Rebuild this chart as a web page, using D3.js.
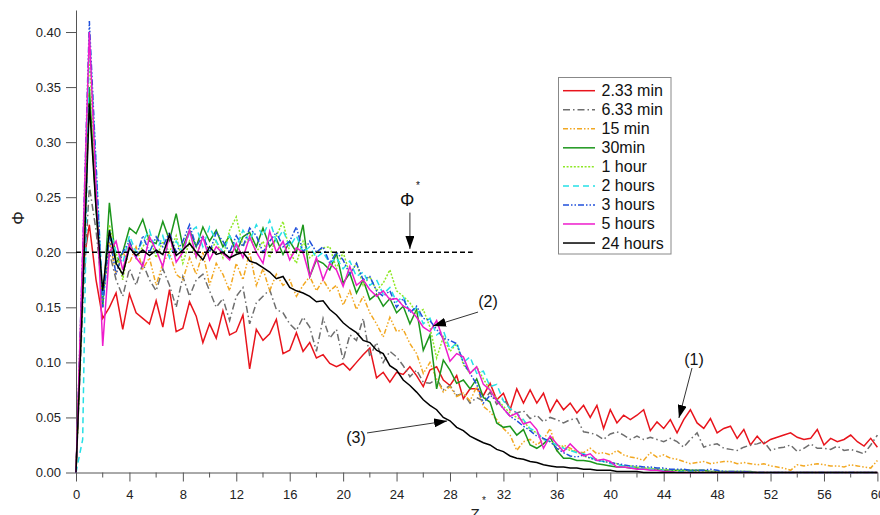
<!DOCTYPE html>
<html>
<head>
<meta charset="utf-8">
<script src="https://cdn.jsdelivr.net/npm/d3@7/dist/d3.min.js"></script>
<style>
  body { margin: 0; background: #fff; }
  svg { display: block; font-family: "Liberation Sans", Arial, sans-serif; }
</style>
</head>
<body>
<svg id="chart" width="880" height="515"></svg>
<script>
// Dimensionless height z* at which each profile is sampled
const zStar = [
  0,0.5,1,1.5,2,2.5,3,3.5,4,4.5, 5,5.5,6,6.5,7,7.5,8,8.5,9,9.5,
  10,10.5,11,11.5,12,12.5,13,13.5,14,14.5, 15,15.5,16,16.5,17,17.5,18,18.5,19,19.5,
  20,20.5,21,21.5,22,22.5,23,23.5,24,24.5, 25,25.5,26,26.5,27,27.5,28,28.5,29,29.5,
  30,30.5,31,31.5,32,32.5,33,33.5,34,34.5, 35,35.5,36,36.5,37,37.5,38,38.5,39,39.5,
  40,40.5,41,41.5,42,42.5,43,43.5,44,44.5, 45,45.5,46,46.5,47,47.5,48,48.5,49,49.5,
  50,50.5,51,51.5,52,52.5,53,53.5,54,54.5, 55,55.5,56,56.5,57,57.5,58,58.5,59,59.5,
  60
];

const seriesLabels = ["2.33 min","6.33 min","15 min","30min","1 hour","2 hours","3 hours","5 hours","24 hours"];

// Solid volume fraction profiles, one per settling time
const phi_2_33min = [
  0,0.185,0.225,0.175,0.14,0.15,0.163,0.13,0.162,0.145,
  0.14,0.135,0.156,0.132,0.166,0.128,0.131,0.155,0.142,0.118,
  0.135,0.122,0.147,0.125,0.128,0.143,0.094,0.13,0.12,0.126,
  0.139,0.108,0.111,0.127,0.11,0.118,0.104,0.107,0.099,0.096,
  0.099,0.093,0.1,0.107,0.113,0.086,0.091,0.082,0.091,0.089,
  0.096,0.088,0.078,0.093,0.096,0.084,0.079,0.088,0.067,0.076,
  0.076,0.07,0.081,0.066,0.072,0.057,0.076,0.063,0.075,0.063,
  0.072,0.055,0.066,0.057,0.063,0.054,0.061,0.05,0.061,0.04,
  0.057,0.045,0.052,0.048,0.052,0.057,0.038,0.046,0.04,0.048,
  0.036,0.048,0.057,0.045,0.04,0.049,0.036,0.04,0.042,0.031,
  0.039,0.025,0.033,0.026,0.03,0.032,0.034,0.036,0.032,0.03,
  0.031,0.039,0.025,0.031,0.028,0.03,0.034,0.028,0.024,0.031,
  0.023
];
const phi_6_33min = [
  0,0.15,0.26,0.22,0.16,0.2,0.175,0.16,0.185,0.17,
  0.19,0.175,0.165,0.185,0.17,0.15,0.178,0.16,0.175,0.18,
  0.165,0.15,0.158,0.138,0.16,0.168,0.135,0.154,0.16,0.166,
  0.148,0.145,0.135,0.129,0.141,0.132,0.11,0.14,0.122,0.13,
  0.102,0.125,0.12,0.14,0.105,0.118,0.1,0.11,0.105,0.097,
  0.087,0.093,0.082,0.081,0.085,0.075,0.079,0.07,0.072,0.063,
  0.068,0.065,0.073,0.062,0.067,0.058,0.054,0.056,0.049,0.052,
  0.046,0.05,0.048,0.045,0.048,0.049,0.037,0.036,0.034,0.03,
  0.035,0.037,0.034,0.03,0.033,0.03,0.032,0.03,0.028,0.031,
  0.028,0.023,0.03,0.036,0.023,0.025,0.026,0.022,0.021,0.02,
  0.023,0.025,0.026,0.028,0.02,0.022,0.023,0.025,0.019,0.022,
  0.026,0.022,0.022,0.021,0.024,0.02,0.021,0.019,0.017,0.025,
  0.034
];
const phi_15min = [
  0,0.17,0.34,0.25,0.16,0.21,0.18,0.2,0.19,0.205,
  0.185,0.195,0.17,0.19,0.2,0.18,0.175,0.195,0.18,0.2,
  0.17,0.19,0.18,0.165,0.19,0.175,0.2,0.17,0.185,0.165,
  0.18,0.17,0.175,0.16,0.17,0.178,0.165,0.175,0.165,0.17,
  0.152,0.165,0.148,0.16,0.145,0.135,0.123,0.141,0.128,0.13,
  0.117,0.108,0.09,0.1,0.085,0.073,0.078,0.069,0.072,0.065,
  0.078,0.06,0.055,0.048,0.04,0.034,0.02,0.028,0.03,0.025,
  0.03,0.04,0.02,0.025,0.022,0.019,0.018,0.022,0.017,0.018,
  0.016,0.02,0.016,0.014,0.013,0.011,0.018,0.014,0.016,0.013,
  0.012,0.01,0.008,0.009,0.01,0.008,0.009,0.01,0.01,0.008,
  0.009,0.008,0.007,0.008,0.006,0.005,0.004,0.002,0.007,0.006,
  0.007,0.008,0.007,0.006,0.006,0.005,0.007,0.006,0.005,0.004,
  0.011
];
const phi_30min = [
  0,0.17,0.35,0.24,0.15,0.245,0.19,0.2,0.222,0.217,
  0.23,0.21,0.208,0.228,0.211,0.235,0.205,0.22,0.205,0.223,
  0.21,0.22,0.205,0.215,0.2,0.214,0.218,0.205,0.222,0.205,
  0.212,0.198,0.21,0.2,0.225,0.178,0.193,0.19,0.184,0.199,
  0.172,0.181,0.163,0.175,0.157,0.162,0.151,0.158,0.145,0.151,
  0.135,0.148,0.111,0.125,0.076,0.102,0.093,0.081,0.084,0.076,
  0.085,0.068,0.064,0.045,0.041,0.042,0.034,0.039,0.025,0.022,
  0.026,0.032,0.02,0.013,0.013,0.011,0.011,0.01,0.008,0.007,
  0.006,0.005,0.005,0.004,0.004,0.003,0.003,0.003,0.002,0.002,
  0.002,0.002,0.002,0.002,0.002,0.001,0.001,0.001,0.001,0.001,
  0.001,0.001,0,0,0,0,0,0,0,0,
  0,0,0,0,0,0,0,0,0,0,
  0
];
const phi_1hour = [
  0,0.18,0.38,0.26,0.155,0.225,0.2,0.175,0.21,0.195,
  0.205,0.215,0.195,0.21,0.2,0.215,0.19,0.21,0.195,0.215,
  0.2,0.21,0.195,0.22,0.232,0.205,0.215,0.2,0.21,0.195,
  0.215,0.228,0.2,0.19,0.21,0.195,0.2,0.204,0.205,0.185,
  0.2,0.18,0.19,0.17,0.178,0.165,0.172,0.184,0.165,0.16,
  0.154,0.145,0.148,0.132,0.104,0.123,0.11,0.117,0.098,0.09,
  0.096,0.085,0.075,0.067,0.06,0.054,0.05,0.047,0.039,0.036,
  0.03,0.028,0.025,0.023,0.02,0.019,0.015,0.013,0.012,0.01,
  0.009,0.008,0.006,0.006,0.005,0.004,0.004,0.003,0.003,0.002,
  0.002,0.002,0.001,0.001,0.001,0.001,0.001,0,0,0,
  0,0,0,0,0,0,0,0,0,0,
  0,0,0,0,0,0,0,0,0,0,
  0
];
const phi_2hours = [
  0,0.03,0.4,0.28,0.16,0.22,0.2,0.19,0.215,0.2,
  0.21,0.22,0.2,0.215,0.195,0.21,0.2,0.218,0.223,0.205,
  0.223,0.21,0.2,0.215,0.205,0.22,0.21,0.225,0.215,0.229,
  0.21,0.22,0.205,0.215,0.2,0.205,0.195,0.2,0.19,0.195,
  0.185,0.192,0.178,0.182,0.17,0.175,0.162,0.168,0.155,0.16,
  0.145,0.15,0.135,0.14,0.125,0.129,0.112,0.118,0.1,0.105,
  0.09,0.092,0.078,0.08,0.065,0.058,0.054,0.048,0.04,0.037,
  0.03,0.028,0.025,0.022,0.02,0.018,0.017,0.014,0.011,0.01,
  0.008,0.007,0.006,0.005,0.004,0.003,0.003,0.002,0.002,0.001,
  0.001,0.001,0.001,0,0,0,0,0,0,0,
  0,0,0,0,0,0,0,0,0,0,
  0,0,0,0,0,0,0,0,0,0,
  0
];
const phi_3hours = [
  0,0.2,0.41,0.28,0.15,0.215,0.18,0.2,0.21,0.195,
  0.215,0.2,0.214,0.205,0.218,0.2,0.21,0.225,0.205,0.215,
  0.2,0.218,0.21,0.2,0.215,0.205,0.222,0.215,0.2,0.21,
  0.218,0.205,0.21,0.223,0.2,0.21,0.2,0.205,0.19,0.2,
  0.193,0.18,0.19,0.175,0.178,0.165,0.16,0.165,0.15,0.158,
  0.145,0.151,0.14,0.138,0.13,0.122,0.12,0.117,0.1,0.09,
  0.08,0.063,0.07,0.066,0.058,0.051,0.047,0.042,0.038,0.033,
  0.031,0.028,0.022,0.018,0.015,0.014,0.016,0.013,0.011,0.01,
  0.009,0.008,0.007,0.006,0.006,0.005,0.005,0.004,0.004,0.003,
  0.003,0.003,0.002,0.002,0.002,0.003,0.002,0.001,0.001,0.001,
  0.001,0,0,0,0,0,0,0,0,0,
  0,0,0,0,0,0,0,0,0,0,
  0
];
const phi_5hours = [
  0,0.2,0.4,0.26,0.115,0.2,0.21,0.184,0.207,0.195,
  0.187,0.214,0.202,0.187,0.216,0.191,0.2,0.22,0.196,0.214,
  0.193,0.205,0.199,0.193,0.208,0.195,0.214,0.2,0.19,0.219,
  0.2,0.21,0.193,0.204,0.2,0.178,0.195,0.175,0.19,0.184,
  0.169,0.187,0.17,0.175,0.166,0.16,0.165,0.157,0.158,0.151,
  0.148,0.141,0.132,0.128,0.138,0.12,0.101,0.108,0.105,0.09,
  0.096,0.08,0.075,0.065,0.058,0.051,0.054,0.044,0.046,0.039,
  0.022,0.033,0.026,0.019,0.026,0.02,0.015,0.017,0.011,0.012,
  0.01,0.005,0.005,0.004,0.003,0.003,0.002,0.002,0.001,0.001,
  0,0,0,0,0,0,0,0,0,0,
  0,0,0,0,0,0,0,0,0,0,
  0,0,0,0,0,0,0,0,0,0,
  0
];
const phi_24hours = [
  0,0.16,0.335,0.24,0.165,0.22,0.19,0.18,0.204,0.197,
  0.202,0.197,0.202,0.198,0.216,0.197,0.202,0.208,0.2,0.193,
  0.205,0.198,0.2,0.195,0.198,0.2,0.192,0.19,0.186,0.182,
  0.176,0.178,0.168,0.165,0.163,0.16,0.155,0.156,0.148,0.143,
  0.136,0.131,0.127,0.12,0.118,0.111,0.108,0.097,0.093,0.084,
  0.079,0.073,0.066,0.061,0.057,0.05,0.047,0.041,0.038,0.033,
  0.03,0.027,0.025,0.021,0.019,0.015,0.013,0.012,0.01,0.009,
  0.007,0.006,0.005,0.005,0.004,0.004,0.003,0.003,0.002,0.002,
  0.002,0.001,0.001,0.001,0.001,0,0,0,0,0,
  0,0,0,0,0,0,0,0,0,0,
  0,0,0,0,0,0,0,0,0,0,
  0,0,0,0,0,0,0,0,0,0,
  0
];

const xMajorTicks = [0,4,8,12,16,20,24,28,32,36,40,44,48,52,56,60];
const xMinorTicks = [2,6,10,14,18,22,26,30,34,38,42,46,50,54,58];
const yTicks = [0,0.05,0.10,0.15,0.20,0.25,0.30,0.35,0.40];

// Reference volume fraction drawn as a dashed level
const phiStar = 0.20;
const phiStarEnd = 29.7;

// Line styles for each profile
const styles = [
  { color: "#e8141c", dash: null },
  { color: "#6e6e6e", dash: "7,3,1.5,3" },
  { color: "#f2a822", dash: "5,2,1.5,2,1.5,2" },
  { color: "#1c961c", dash: null },
  { color: "#8ee825", dash: "2,1.6" },
  { color: "#26e0e6", dash: "6,4" },
  { color: "#2050dc", dash: "6,2,1.5,2,1.5,2" },
  { color: "#ee1ccc", dash: null },
  { color: "#000000", dash: null }
];
const allSeries = [phi_2_33min, phi_6_33min, phi_15min, phi_30min, phi_1hour,
                   phi_2hours, phi_3hours, phi_5hours, phi_24hours];

const svg = d3.select("#chart");
const x = d3.scaleLinear().domain([0, 60]).range([76, 877.4]);
const y = d3.scaleLinear().domain([0, 0.42]).range([472.5, 10]);

// Axes
const axisColor = "#555";
const gx = svg.append("g").attr("transform", `translate(0,${y(0)})`)
  .call(d3.axisBottom(x).tickValues(xMajorTicks).tickSize(9).tickPadding(8).tickSizeOuter(0)
    .tickFormat(d3.format("d")));
gx.selectAll(".tick line").attr("stroke", axisColor);
gx.select(".domain").attr("stroke", axisColor);
gx.selectAll("text").attr("font-size", 13).attr("fill", "#222")
  .attr("font-family", "Liberation Sans, Arial, sans-serif");
gx.selectAll(".minor").data(xMinorTicks).enter().append("line")
  .attr("class", "minor")
  .attr("x1", d => x(d)).attr("x2", d => x(d))
  .attr("y1", 0).attr("y2", 5).attr("stroke", axisColor);

const gy = svg.append("g").attr("transform", `translate(${x(0)},0)`)
  .call(d3.axisLeft(y).tickValues(yTicks).tickSize(10).tickPadding(5).tickSizeOuter(0)
    .tickFormat(d3.format(".2f")));
gy.selectAll(".tick line").attr("stroke", axisColor);
gy.select(".domain").attr("stroke", axisColor);
gy.selectAll("text").attr("font-size", 13).attr("fill", "#222")
  .attr("font-family", "Liberation Sans, Arial, sans-serif");

// Axis titles
svg.append("text").attr("transform", "translate(18,218) rotate(-90)")
  .attr("text-anchor", "middle").attr("dominant-baseline", "central")
  .attr("font-size", 17).attr("fill", "#222").text("Φ");
svg.append("text").attr("x", 475).attr("y", 519).attr("font-size", 15)
  .attr("fill", "#222").attr("text-anchor", "middle").text("Z");
svg.append("text").attr("x", 484).attr("y", 504).attr("font-size", 10)
  .attr("fill", "#222").attr("text-anchor", "middle").text("*");

// Profiles
const line = d3.line().x((d, i) => x(zStar[i])).y(d => y(d));
allSeries.forEach((vals, k) => {
  svg.append("path").datum(vals)
    .attr("d", line)
    .attr("fill", "none")
    .attr("stroke", styles[k].color)
    .attr("stroke-width", 1.5)
    .attr("stroke-dasharray", styles[k].dash);
});

// Dashed reference level
svg.append("line")
  .attr("x1", x(0)).attr("x2", x(phiStarEnd))
  .attr("y1", y(phiStar)).attr("y2", y(phiStar))
  .attr("stroke", "#000").attr("stroke-width", 1.3).attr("stroke-dasharray", "5,3");

// Arrow annotations
svg.append("defs").append("marker")
  .attr("id", "arrowHead").attr("markerUnits", "userSpaceOnUse")
  .attr("markerWidth", 13).attr("markerHeight", 9)
  .attr("refX", 13).attr("refY", 4.5).attr("orient", "auto")
  .append("path").attr("d", "M0,0 L13,4.5 L0,9 Z").attr("fill", "#000");

const arrows = [
  { from: [25.0, 0.236], to: [25.0, 0.203] },
  { from: [30.1, 0.1457], to: [26.73, 0.133] },
  { from: [21.79, 0.0359], to: [27.78, 0.0468] },
  { from: [46.12, 0.0949], to: [45.14, 0.0495] }
];
arrows.forEach(a => {
  svg.append("line")
    .attr("x1", x(a.from[0])).attr("y1", y(a.from[1]))
    .attr("x2", x(a.to[0])).attr("y2", y(a.to[1]))
    .attr("stroke", "#000").attr("stroke-width", 0.8)
    .attr("marker-end", "url(#arrowHead)");
});

const notes = [
  { text: "(2)", at: [30.85, 0.155] },
  { text: "(3)", at: [20.96, 0.0322] },
  { text: "(1)", at: [46.27, 0.103] }
];
notes.forEach(n => {
  svg.append("text").attr("x", x(n.at[0])).attr("y", y(n.at[1]))
    .attr("text-anchor", "middle").attr("dominant-baseline", "central")
    .attr("font-size", 16).attr("fill", "#111").text(n.text);
});
svg.append("text").attr("x", x(24.8)).attr("y", y(0.242))
  .attr("text-anchor", "middle").attr("font-size", 18).attr("fill", "#111").text("Φ");
svg.append("text").attr("x", x(25.6)).attr("y", y(0.257))
  .attr("text-anchor", "middle").attr("font-size", 10).attr("fill", "#111").text("*");

// Legend
const lg = svg.append("g");
lg.append("rect").attr("x", 558.5).attr("y", 77.5).attr("width", 112.5).attr("height", 176.5)
  .attr("fill", "#fff").attr("stroke", "#888").attr("stroke-width", 1);
seriesLabels.forEach((name, k) => {
  const cy = 90.7 + k * 19.04;
  lg.append("line").attr("x1", 563).attr("x2", 595).attr("y1", cy).attr("y2", cy)
    .attr("stroke", styles[k].color).attr("stroke-width", 1.5)
    .attr("stroke-dasharray", styles[k].dash);
  lg.append("text").attr("x", 601.5).attr("y", cy).attr("dominant-baseline", "central")
    .attr("font-size", 16).attr("fill", "#111").text(name);
});
</script>
</body>
</html>
